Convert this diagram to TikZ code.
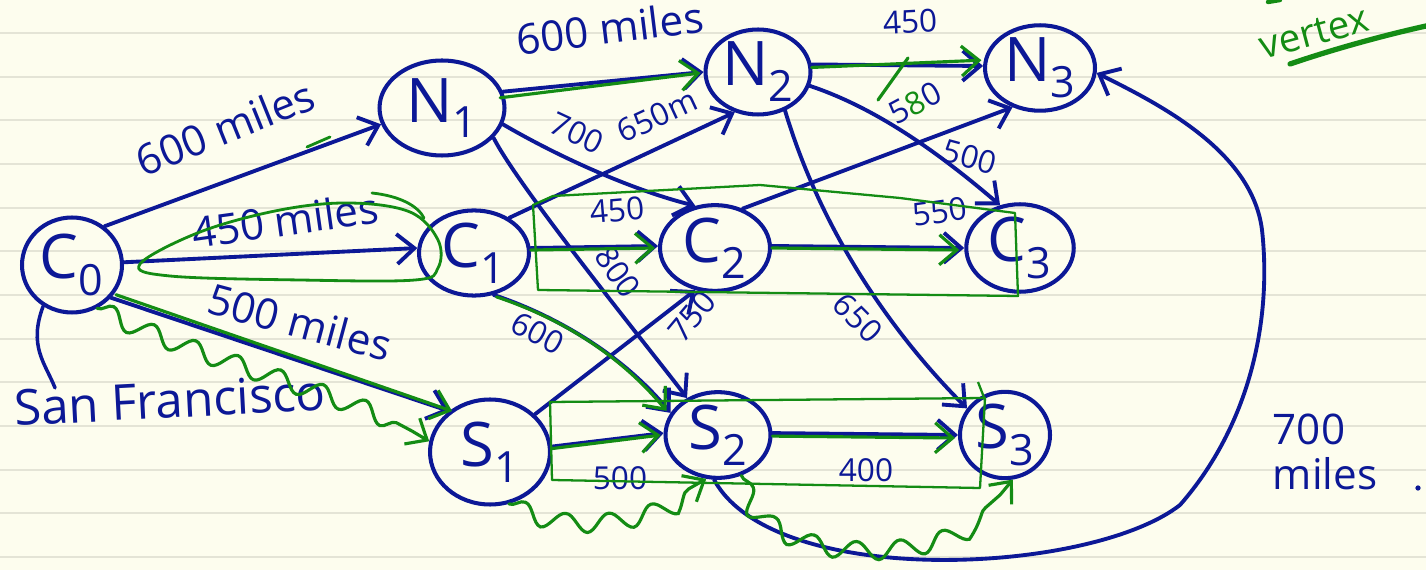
\documentclass[tikz,border=0pt]{standalone}
\usepackage{fontspec}
\setmainfont{Open Sans}
\usetikzlibrary{arrows.meta,shapes.geometric,decorations.pathmorphing}
\definecolor{ink}{RGB}{12,24,150}
\definecolor{marker}{RGB}{20,140,20}
\definecolor{paper}{RGB}{253,253,238}
\definecolor{ruling}{RGB}{228,228,214}
\begin{document}
\begin{tikzpicture}[x=0.02cm,y=-0.02cm,
  vertex/.style={ellipse, draw=ink, line width=2.3pt, text=ink, inner sep=0pt,
    font=\fontsize{35}{37}\selectfont},
  edge/.style={draw=ink, line width=2.2pt, line cap=round,
    -{Straight Barb[length=3.5mm,width=6mm]}},
  hl/.style={draw=marker, line width=1.8pt, line cap=round,
    -{Straight Barb[length=3.5mm,width=6mm]}},
  wavy/.style={hl, decorate, decoration={snake, amplitude=1.8mm,
    segment length=9mm, post length=4mm}},
  frame/.style={draw=marker, line width=1.3pt, line join=round},
  lbl/.style={text=ink, inner sep=1pt, font=\fontsize{24}{26}\selectfont},
  num/.style={text=ink, inner sep=1pt, font=\fontsize{18}{20}\selectfont}]

% ruled paper
\useasboundingbox (0,0) rectangle (1426,570);
\clip (0,0) rectangle (1426,570);
\fill[paper] (0,0) rectangle (1426,570);
\foreach \k in {0,...,12}
  \draw[ruling, line width=1pt] (0,33+43.67*\k) -- (1426,33+43.67*\k);

% cities
\node[vertex, minimum width=2.0cm, minimum height=1.9cm] (c0) at (72,265) {C\textsubscript{0}};
\node[vertex, minimum width=2.5cm, minimum height=1.9cm] (n1) at (442,108) {N\textsubscript{1}};
\node[vertex, minimum width=2.1cm, minimum height=1.7cm] (n2) at (758,72) {N\textsubscript{2}};
\node[vertex, minimum width=2.2cm, minimum height=1.7cm] (n3) at (1040,68) {N\textsubscript{3}};
\node[vertex, minimum width=2.2cm, minimum height=1.7cm] (c1) at (474,253) {C\textsubscript{1}};
\node[vertex, minimum width=2.2cm, minimum height=1.7cm] (c2) at (715,248) {C\textsubscript{2}};
\node[vertex, minimum width=2.15cm, minimum height=1.75cm] (c3) at (1020,248) {C\textsubscript{3}};
\node[vertex, minimum width=2.4cm, minimum height=2.1cm] (s1) at (490,452) {S\textsubscript{1}};
\node[vertex, minimum width=2.1cm, minimum height=1.45cm] (s2) at (718,435) {S\textsubscript{2}};
\node[vertex, minimum width=1.8cm, minimum height=1.6cm] (s3) at (1005,435) {S\textsubscript{3}};

\node[lbl, font=\fontsize{28}{30}\selectfont, rotate=3] (sf) at (170,400) {San Francisco};
\draw[ink, line width=2pt, line cap=round] (c0.235) .. controls +(-15,40) and +(-10,-25) .. ([xshift=25]sf.north west);

% roads
\draw[edge] (c0.50) -- (n1.195);
\draw[edge] (c0.3) -- (c1.175);
\draw[edge] (c0.-40) -- (s1.135);
\draw[edge] (n1.15) -- (n2.180);
\draw[edge] (n1.-15) .. controls +(60,35) and +(-60,-15) .. (c2.115);
\draw[edge] (n1.-30) .. controls +(25,50) and +(-30,-40) .. (s2.130);
\draw[edge] (c1.45) -- (n2.-120);
\draw[edge] (c1.5) -- (c2.178);
\draw[edge] (c1.-65) .. controls +(60,20) and +(-50,-60) .. (s2.155);
\draw[edge] (s1.40) -- (c2.-115);
\draw[edge] (s1.5) -- (s2.178);
\draw[edge] (n2.8) -- (n3.178);
\draw[edge] (n2.-15) .. controls +(60,20) and +(-70,-60) .. (c3.115);
\draw[edge] (n2.-55) .. controls +(45,150) and +(-45,-45) .. (s3.145);
\draw[edge] (c2.55) -- (n3.-125);
\draw[edge] (c2.2) -- (c3.180);
\draw[edge] (s2.2) -- (s3.180);
\coordinate (loopA) at (1180,505);
\coordinate (loopB) at (1262,230);
\draw[edge] (s2.-95) .. controls +(60,110) and +(-90,70) .. (loopA)
  .. controls +(70,-80) and +(10,90) .. (loopB)
  .. controls +(-10,-80) and +(60,30) .. (n3.-5);

% distances
\node[lbl, rotate=22] (d1) at (225,128) {600 miles};
\node[lbl, rotate=7] (d2) at (610,28) {600 miles};
\node[lbl, rotate=8] (d3) at (285,220) {450 miles};
\node[lbl, rotate=-15] (d4) at (300,322) {500 miles};
\node[num, rotate=-25] (d5) at (577,133) {700};
\node[num, rotate=25] (d6) at (657,116) {650m};
\node[num, rotate=5] (d7) at (617,210) {450};
\node[num, rotate=-55] (d8) at (618,272) {800};
\node[num, rotate=-28] (d9) at (538,333) {600};
\node[num, rotate=50] (d10) at (692,316) {750};
\node[num, rotate=3] (d11) at (910,22) {450};
\node[num, rotate=28] (d12) at (915,103) {5{\color{marker}8}0};
\node[num, rotate=-15] (d13) at (970,157) {500};
\node[num, rotate=8] (d14) at (940,212) {550};
\node[num, rotate=-45] (d15) at (858,318) {650};
\node[num] (d16) at (620,478) {500};
\node[num] (d17) at (866,470) {400};
\node[lbl, align=left] (d18) at (1325,452) {700\\miles};
\fill[ink] (1418,488) circle (1.5pt);

% highlighted routes
\draw[hl] ([shift={(-4,3)}]n1.12) -- ([shift={(-3,1)}]n2.180);
\draw[hl] ([shift={(0,2)}]c1.5) -- ([shift={(-3,2)}]c2.178);
\draw[hl] ([shift={(0,2)}]c2.2) -- ([shift={(-5,2)}]c3.180);
\draw[hl] ([shift={(0,2)}]s1.5) -- ([shift={(-3,2)}]s2.178);
\draw[hl] ([shift={(0,3)}]s2.2) -- ([shift={(-3,3)}]s3.180);
\draw[hl] ([shift={(0,3)}]n2.8) -- ([shift={(-3,2)}]n3.170);
\draw[hl] ([shift={(5,-3)}]c0.-40) -- ([shift={(3,0)}]s1.135);
\draw[hl] ([shift={(3,2)}]c1.-65) .. controls +(60,20) and +(-50,-60) .. ([shift={(-4,-2)}]s2.155);
\draw[wavy] (c0.-60) .. controls (200,360) and (350,390) .. (s1.170);
\draw[wavy] (s1.-70) .. controls (560,530) and (640,520) .. (s2.-105);
\draw[wavy] (s2.-60) .. controls (760,560) and (960,560) .. (s3.-80);
\draw[marker, line width=1.8pt, line cap=round] (878,100) -- (908,58);

% grouping marks
\draw[marker, line width=1.6pt] plot[smooth cycle, tension=0.6] coordinates
  {(140,264) (200,232) (280,210) (350,203) (410,212) (438,240) (438,268) (415,280) (300,280) (170,276)};
\draw[marker, line width=1.6pt, line cap=round] (372,193) .. controls (400,196) and (418,206) .. (424,218);
\draw[marker, line width=1.6pt, line cap=round] (307,147) -- (330,137);
\draw[frame] (533,205) -- (553,196) -- (760,185) -- (900,198) -- (1015,213) -- (1018,296) -- (538,290) -- cycle;
\draw[frame] (550,402) -- (985,398) -- (980,488) -- (552,480) -- cycle;
\draw[frame] (978,382) -- (985,400);

% note in the corner
\node[text=marker, font=\fontsize{22}{24}\selectfont, rotate=15] (note) at (1314,33) {vertex};
\draw[marker, line width=3pt, line cap=round] (1290,64) .. controls (1340,47) and (1390,34) .. (1426,26);
\draw[marker, line width=2.5pt, line cap=round] (1268,2) -- (1280,0);
\end{tikzpicture}
\end{document}
